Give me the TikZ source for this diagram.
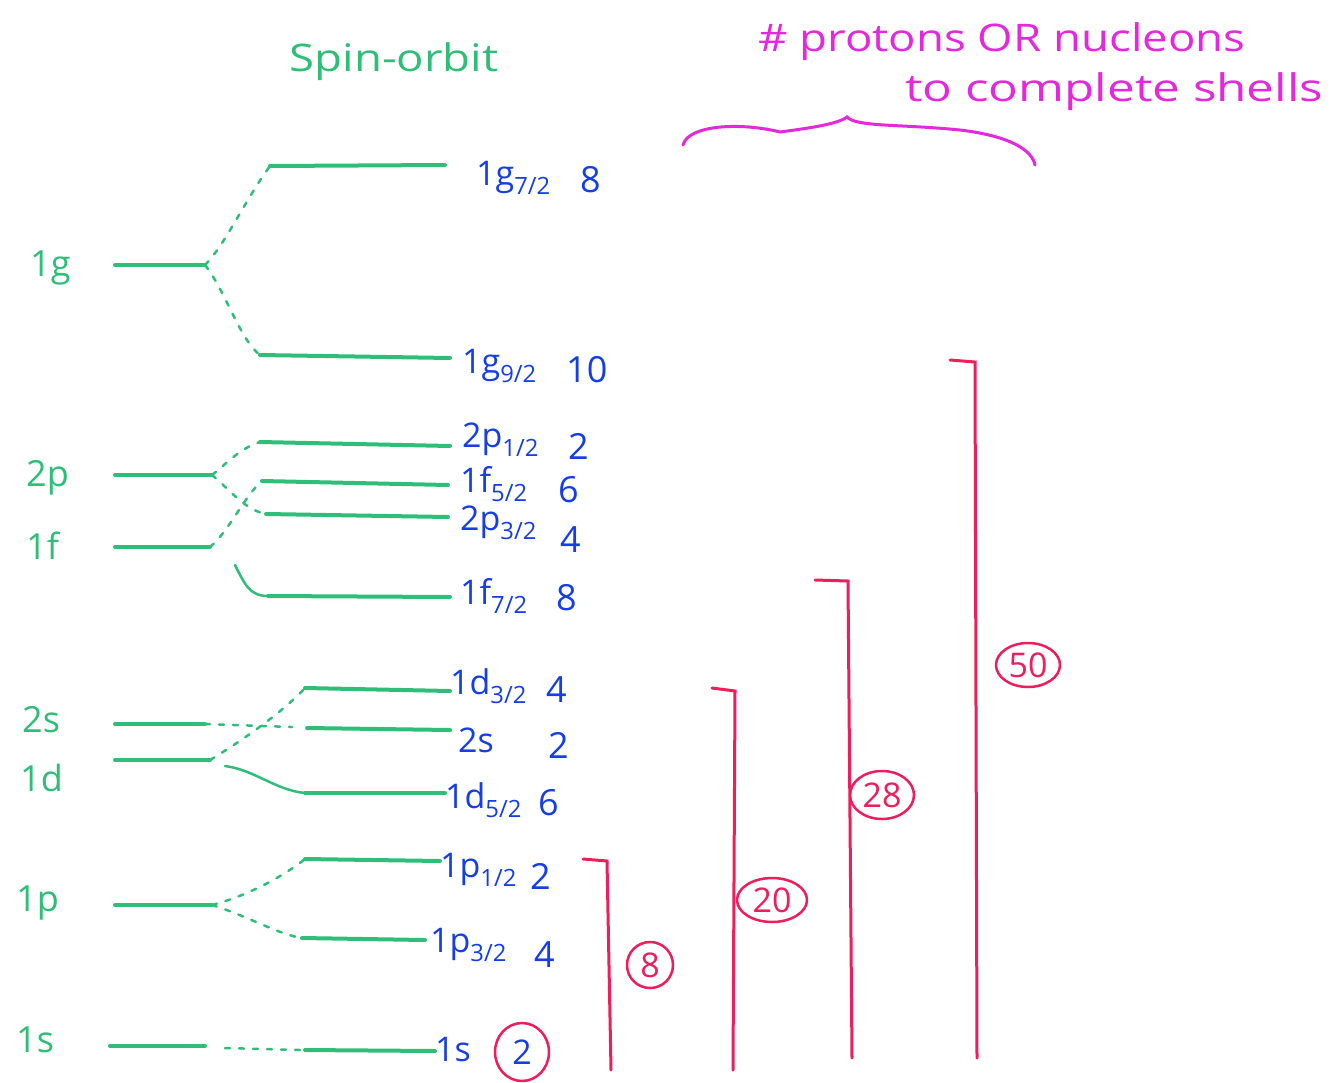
\documentclass[tikz,border=0pt]{standalone}
\usepackage{fontspec}
\setmainfont{Open Sans}
\usetikzlibrary{shapes.geometric}
\definecolor{sogreen}{RGB}{46,190,120}
\definecolor{soblue}{RGB}{22,62,230}
\definecolor{somag}{RGB}{228,40,220}
\definecolor{sored}{RGB}{236,30,92}
\begin{document}
\begin{tikzpicture}[x=1pt,y=-1pt,
  lvl/.style={draw=sogreen,line width=4pt,line cap=round},
  split/.style={draw=sogreen,line width=2.5pt,dash pattern=on 5pt off 9pt,line cap=round},
  bendline/.style={draw=sogreen,line width=2.5pt,line cap=round},
  orbl/.style={text=sogreen,font=\fontsize{36}{40}\selectfont,anchor=west,inner sep=0pt},
  statel/.style={text=soblue,font=\fontsize{34}{38}\selectfont,anchor=west,inner sep=0pt},
  numl/.style={text=soblue,font=\fontsize{36}{40}\selectfont,anchor=west,inner sep=0pt},
  shell/.style={draw=sored,line width=3pt,line cap=round},
  magic/.style={draw=sored,line width=2.5pt,ellipse,text=sored,inner sep=0pt,font=\fontsize{34}{38}\selectfont}]
\useasboundingbox (0,0) rectangle (1338,1082);
\fill[white] (0,0) rectangle (1338,1082);

% titles
\node[text=sogreen,font=\fontsize{38}{40}\selectfont,inner sep=0pt] (title) at (394,62) {\scalebox{1.2}[1]{Spin-orbit}};
\node[text=somag,font=\fontsize{38}{40}\selectfont,anchor=west,inner sep=0pt] (head1) at (758,42) {\scalebox{1.2}[1]{\# protons OR nucleons}};
\node[text=somag,font=\fontsize{38}{40}\selectfont,anchor=west,inner sep=0pt] (head2) at (905,92) {\scalebox{1.3}[1]{to complete shells}};
\draw[somag,line width=3pt,line cap=round]
  (683,145) .. controls (688,125) and (740,122) .. (780,132)
  .. controls (810,128) and (838,124) .. (847,117)
  .. controls (856,127) and (900,124) .. (960,130)
  .. controls (1010,136) and (1032,150) .. (1035,165);

% left (unsplit) levels
\node[orbl] (n1g) at (30,268) {1g};
\node[orbl] (n2p) at (26,478) {2p};
\node[orbl] (n1f) at (26,546) {1f};
\node[orbl] (n2s) at (22,720) {2s};
\node[orbl] (n1d) at (20,778) {1d};
\node[orbl] (n1p) at (16,903) {1p};
\node[orbl] (n1s) at (16,1040) {1s};

\coordinate (g-a) at (115,265); \coordinate (g-b) at (205,265);
\coordinate (p2-a) at (115,475); \coordinate (p2-b) at (212,475);
\coordinate (f-a) at (115,547); \coordinate (f-b) at (210,547);
\coordinate (s2-a) at (115,724); \coordinate (s2-b) at (205,724);
\coordinate (d-a) at (115,760); \coordinate (d-b) at (210,760);
\coordinate (p1-a) at (115,905); \coordinate (p1-b) at (212,905);
\coordinate (s1-a) at (110,1046); \coordinate (s1-b) at (205,1046);
\foreach \l in {g,p2,f,s2,d,p1,s1} \draw[lvl] (\l-a) -- (\l-b);

% right (split) levels
\coordinate (g7-a) at (270,166); \coordinate (g7-b) at (445,165);
\coordinate (g9-a) at (260,355); \coordinate (g9-b) at (450,358);
\coordinate (p21-a) at (260,442); \coordinate (p21-b) at (450,446);
\coordinate (f5-a) at (262,481); \coordinate (f5-b) at (448,485);
\coordinate (p23-a) at (266,514); \coordinate (p23-b) at (448,517);
\coordinate (f7-a) at (268,596); \coordinate (f7-b) at (450,597);
\coordinate (d3-a) at (305,688); \coordinate (d3-b) at (450,691);
\coordinate (s22-a) at (307,728); \coordinate (s22-b) at (450,730);
\coordinate (d5-a) at (305,793); \coordinate (d5-b) at (445,793);
\coordinate (p11-a) at (305,859); \coordinate (p11-b) at (440,861);
\coordinate (p13-a) at (302,938); \coordinate (p13-b) at (425,940);
\coordinate (s11-a) at (305,1050); \coordinate (s11-b) at (435,1051);
\foreach \l in {g7,g9,p21,f5,p23,f7,d3,s22,d5,p11,p13,s11} \draw[lvl] (\l-a) -- (\l-b);

% splitting connectors
\draw[split] (g-b) .. controls (225,245) and (245,200) .. (g7-a);
\draw[split] (g-b) .. controls (225,290) and (240,340) .. (g9-a);
\draw[split] (p2-b) .. controls (225,465) and (240,448) .. (p21-a);
\draw[split] (p2-b) .. controls (230,490) and (245,510) .. (p23-a);
\draw[split] (f-b) .. controls (230,530) and (245,495) .. (f5-a);
\draw[bendline] (235,565) .. controls (245,585) and (250,596) .. (f7-a);
\draw[split] (s2-b) -- (292,727);
\draw[split] (d-b) .. controls (235,745) and (280,715) .. (d3-a);
\draw[bendline] (225,766) .. controls (255,770) and (275,790) .. (d5-a);
\draw[split] (p1-b) .. controls (250,895) and (285,875) .. (p11-a);
\draw[split] (p1-b) .. controls (245,915) and (280,935) .. (p13-a);
\draw[split] (225,1048) -- (300,1050);

% state labels
\node[statel] (l1g7) at (476,178) {1g\textsubscript{7/2}};
\node[numl] (c1g7) at (580,180) {8};
\node[statel] (l1g9) at (462,366) {1g\textsubscript{9/2}};
\node[numl] (c1g9) at (566,370) {10};
\node[statel] (l2p1) at (462,440) {2p\textsubscript{1/2}};
\node[numl] (c2p1) at (568,446) {2};
\node[statel] (l1f5) at (460,484) {1f\textsubscript{5/2}};
\node[numl] (c1f5) at (558,490) {6};
\node[statel] (l2p3) at (460,523) {2p\textsubscript{3/2}};
\node[numl] (c2p3) at (560,540) {4};
\node[statel] (l1f7) at (460,596) {1f\textsubscript{7/2}};
\node[numl] (c1f7) at (556,598) {8};
\node[statel] (l1d3) at (450,686) {1d\textsubscript{3/2}};
\node[numl] (c1d3) at (546,690) {4};
\node[statel] (l2s) at (458,740) {2s};
\node[numl] (c2s) at (548,745) {2};
\node[statel] (l1d5) at (445,800) {1d\textsubscript{5/2}};
\node[numl] (c1d5) at (538,803) {6};
\node[statel] (l1p1) at (440,870) {1p\textsubscript{1/2}};
\node[numl] (c1p1) at (530,876) {2};
\node[statel] (l1p3) at (430,945) {1p\textsubscript{3/2}};
\node[numl] (c1p3) at (534,955) {4};
\node[statel] (l1s) at (435,1050) {1s};
\node[magic,text=soblue,minimum width=54pt,minimum height=58pt] (m2) at (522,1052) {2};

% shell closures
\coordinate (b8-t0) at (583,859); \coordinate (b8-t) at (607,861); \coordinate (b8-b) at (611,1070);
\coordinate (b20-t0) at (712,688); \coordinate (b20-t) at (735,691); \coordinate (b20-b) at (733,1070);
\coordinate (b28-t0) at (815,580); \coordinate (b28-t) at (848,581); \coordinate (b28-b) at (852,1058);
\coordinate (b50-t0) at (950,360); \coordinate (b50-t) at (975,362); \coordinate (b50-b) at (977,1058);
\foreach \b in {b8,b20,b28,b50} \draw[shell] (\b-t0) -- (\b-t) -- (\b-b);
\node[magic,minimum width=46pt,minimum height=46pt] (m8) at (650,965) {8};
\node[magic,minimum width=70pt,minimum height=44pt] (m20) at (772,900) {20};
\node[magic,minimum width=64pt,minimum height=48pt] (m28) at (882,795) {28};
\node[magic,minimum width=64pt,minimum height=44pt] (m50) at (1028,665) {50};
\end{tikzpicture}
\end{document}
